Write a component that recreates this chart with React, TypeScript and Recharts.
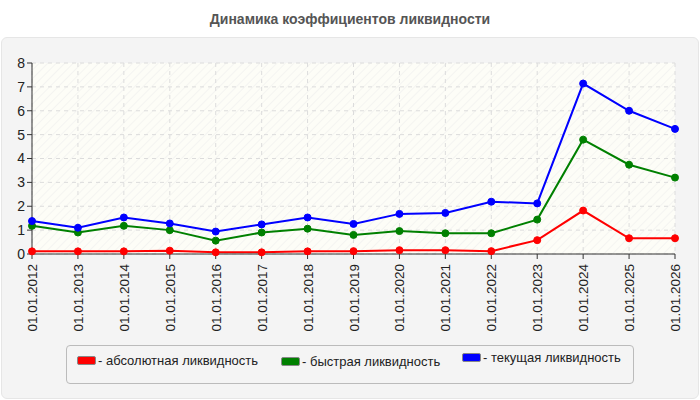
import {
  CartesianGrid,
  Line,
  LineChart,
  XAxis,
  YAxis,
} from "recharts";

const dates = [
  "01.01.2012", "01.01.2013", "01.01.2014", "01.01.2015", "01.01.2016",
  "01.01.2017", "01.01.2018", "01.01.2019", "01.01.2020", "01.01.2021",
  "01.01.2022", "01.01.2023", "01.01.2024", "01.01.2025", "01.01.2026",
];
const absolute = [0.11, 0.11, 0.11, 0.14, 0.07, 0.07, 0.11, 0.12, 0.16, 0.16, 0.12, 0.58, 1.82, 0.66, 0.66];
const quick = [1.18, 0.9, 1.18, 1.0, 0.56, 0.9, 1.06, 0.8, 0.96, 0.87, 0.87, 1.44, 4.79, 3.74, 3.2];
const current = [1.38, 1.1, 1.53, 1.28, 0.94, 1.24, 1.53, 1.26, 1.68, 1.72, 2.19, 2.12, 7.14, 6.0, 5.24];
const yTicks = [0, 1, 2, 3, 4, 5, 6, 7, 8];

const series = [
  { key: "absolute", label: "- абсолютная ликвидность", color: "#ff0000" },
  { key: "quick", label: "- быстрая ликвидность", color: "#008000" },
  { key: "current", label: "- текущая ликвидность", color: "#0000ff" },
];

const data = dates.map((date, i) => ({
  date,
  absolute: absolute[i],
  quick: quick[i],
  current: current[i],
}));

const font = "'Liberation Sans', Arial, sans-serif";

function DateTick({ x, y, payload }: any) {
  return (
    <text
      x={x + 5}
      y={y + 3}
      transform={`rotate(-90, ${x + 5}, ${y + 3})`}
      textAnchor="end"
      fontSize={13.5}
      fill="#222"
      fontFamily={font}
    >
      {payload.value}
    </text>
  );
}

export default function App() {
  return (
    <div style={{ position: "absolute", left: 0, top: 0, width: 700, height: 400, background: "#fff", fontFamily: font }}>
      <div
        style={{
          position: "absolute",
          left: 0,
          top: 11,
          width: 700,
          textAlign: "center",
          fontSize: 14,
          fontWeight: "bold",
          color: "#555",
        }}
      >
        Динамика коэффициентов ликвидности
      </div>
      <div
        style={{
          position: "absolute",
          left: 1,
          top: 37,
          width: 696,
          height: 360,
          background: "#f4f4f4",
          border: "1px solid #e6e6e6",
          borderRadius: 6,
        }}
      />
      <div style={{ position: "absolute", left: 0, top: 0 }}>
        <LineChart
          width={700}
          height={400}
          data={data}
          margin={{ top: 63, right: 25, left: 2, bottom: 66 }}
        >
          <defs>
            <pattern id="hatch" width="6" height="6" patternUnits="userSpaceOnUse" patternTransform="rotate(45)">
              <rect width="6" height="6" fill="#fdfdf7" />
              <line x1="0" y1="0" x2="0" y2="6" stroke="#ececec" strokeWidth="1" />
            </pattern>
          </defs>
          <CartesianGrid
            fill="url(#hatch)"
            stroke="#dcdcdc"
            strokeDasharray="4 4"
          />
          <XAxis
            dataKey="date"
            interval={0}
            height={80}
            tick={<DateTick />}
            tickSize={5}
            stroke="#333"
            tickLine={{ stroke: "#333" }}
          />
          <YAxis
            domain={[0, 8]}
            ticks={yTicks}
            width={30}
            tickSize={5}
            stroke="#333"
            tick={{ fontSize: 14, fill: "#222", fontFamily: font }}
          />
          {series.map((s) => (
            <Line
              key={s.key}
              dataKey={s.key}
              stroke={s.color}
              strokeWidth={2}
              dot={{ r: 3.5, fill: s.color, stroke: s.color, strokeWidth: 1 }}
              isAnimationActive={false}
            />
          ))}
        </LineChart>
      </div>
      <div
        style={{
          position: "absolute",
          left: 66,
          top: 345,
          width: 566,
          height: 37,
          border: "1px solid #bbb",
          borderRadius: 4,
          background: "#f4f4f4",
        }}
      >
        {series.map((s, i) => (
          <div
            key={s.key}
            style={{
              position: "absolute",
              left: [10, 214, 395][i],
              top: [7, 8, 4][i],
              display: "flex",
              alignItems: "center",
              fontSize: 13,
              color: "#222",
              whiteSpace: "nowrap",
            }}
          >
            <span
              style={{
                display: "inline-block",
                width: 17,
                height: 7,
                background: s.color,
                border: "1px solid #888",
                borderRadius: 2,
                marginRight: 2,
              }}
            />
            {s.label}
          </div>
        ))}
      </div>
    </div>
  );
}
